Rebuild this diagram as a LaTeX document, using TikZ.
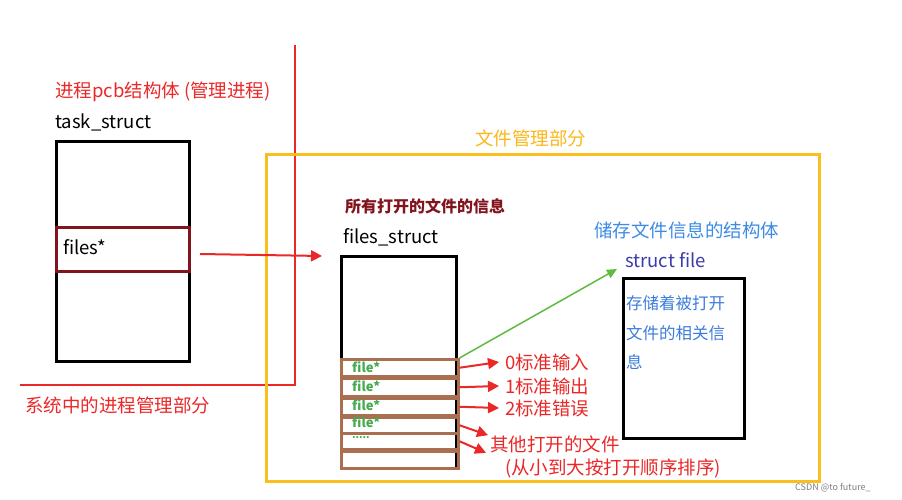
\documentclass[tikz,border=0pt]{standalone}
\usepackage{fontspec}
\setmainfont{Noto Sans CJK SC}
\usetikzlibrary{arrows.meta}
\definecolor{myred}{RGB}{235,40,40}
\definecolor{myyel}{RGB}{250,190,30}
\definecolor{mybrown}{RGB}{170,110,80}
\definecolor{mygreen}{RGB}{70,170,80}
\definecolor{myblue}{RGB}{60,140,230}
\definecolor{darkblue}{RGB}{60,60,170}
\definecolor{dred}{RGB}{130,20,30}
\tikzset{
 lbl/.style={anchor=west,inner sep=0pt,font=\fontsize{18.5}{18.5}\selectfont},
 bx/.style={draw=black,line width=3pt},
 row/.style={draw=mybrown,line width=2.5pt},
 ft/.style={anchor=west,inner sep=0pt,text=mygreen,font=\fontsize{13}{13}\selectfont\bfseries},
 rarr/.style={draw=myred,line width=2pt,-{Triangle[length=11pt,width=11pt]}},
}
\begin{document}
\begin{tikzpicture}[x=1pt,y=-1pt]
\useasboundingbox[fill=white] (0,0) rectangle (902,500);
% process part
\draw[myred,line width=2.5pt] (295,45) -- (295,385) -- (20,385);
\node[lbl,text=myred] (t1) at (55,92) {进程pcb结构体 (管理进程)};
\node[lbl] (t2) at (55,122) {task\_struct};
\node[bx,minimum width=133pt,minimum height=220pt,anchor=north west,inner sep=0pt] (tb) at (55,140) {};
\node[draw=dred,line width=2.5pt,minimum width=133pt,minimum height=44pt,anchor=north west,inner sep=0pt] (fs) at (55,226) {};
\node[lbl] at (63,247) {files*};
\node[lbl,text=myred] (sys) at (25,405) {系统中的进程管理部分};
% file management
\node[draw=myyel,line width=2.5pt,minimum width=553pt,minimum height=327pt,anchor=north west,inner sep=0pt] (yb) at (265,153) {};
\node[lbl,text=myyel!90!orange] at (475,138) {文件管理部分};
\node[lbl,text=dred,font=\fontsize{16}{16}\selectfont\bfseries] at (345,206) {所有打开的文件的信息};
\node[lbl] at (343,237) {files\_struct};
\node[bx,minimum width=115pt,minimum height=212pt,anchor=north west,inner sep=0pt] (fb) at (340,255) {};
\foreach \n/\a/\b in {r0/358/375,r1/377/395,r2/397/414,r3/416/432,r4/432/448,r5/450/467}{
  \node[row,minimum width=117pt,minimum height=\b-\a,anchor=north west,inner sep=0pt] (\n) at (340,\a) {};
}
\node[ft] at (352,367) {file*};
\node[ft] at (352,386) {file*};
\node[ft] at (352,405) {file*};
\node[ft] at (352,422) {file*};
\node[ft,font=\fontsize{10}{10}\selectfont\bfseries] at (352,438) {.....};
\node[lbl,text=myred] (l0) at (505,362) {0标准输入};
\node[lbl,text=myred] (l1) at (505,386) {1标准输出};
\node[lbl,text=myred] (l2) at (505,408) {2标准错误};
\node[lbl,text=myred] (l3) at (490,444) {其他打开的文件};
\node[lbl,text=myred] (l4) at (505,468) {(从小到大按打开顺序排序)};
\draw[rarr] (r0.east) -- ([xshift=-6pt]l0.west);
\draw[rarr] (r1.east) -- ([xshift=-6pt]l1.west);
\draw[rarr] (r2.east) -- ([xshift=-6pt]l2.west);
\draw[rarr] (r3.east) -- ([xshift=-2pt]l3.north west);
\draw[rarr] (r4.east) -- ([xshift=-4pt]l3.south west);
\draw[rarr] (200,254) coordinate (fsa) -- (322,256) coordinate (fsb);
% struct file
\node[lbl,text=myblue] at (594,230) {储存文件信息的结构体};
\node[lbl,text=darkblue] (sf) at (625,260) {struct file};
\node[bx,minimum width=121pt,minimum height=160pt,anchor=north west,inner sep=0pt] (sb) at (622,277) {};
\node[lbl,text=myblue!80!darkblue,font=\fontsize{16.5}{16.5}\selectfont] at (626,303) {存储着被打开};
\node[lbl,text=myblue!80!darkblue,font=\fontsize{16.5}{16.5}\selectfont] at (626,333) {文件的相关信};
\node[lbl,text=myblue!80!darkblue,font=\fontsize{16.5}{16.5}\selectfont] at (626,362) {息};
\draw[draw=mygreen!80!lime,line width=1.5pt,-{Triangle[length=10pt,width=9pt]}] (r0.north east) -- (617,269);
\node[lbl,text=gray,font=\fontsize{9}{9}\selectfont] at (795,488) {CSDN @to future\_};
\end{tikzpicture}
\end{document}
